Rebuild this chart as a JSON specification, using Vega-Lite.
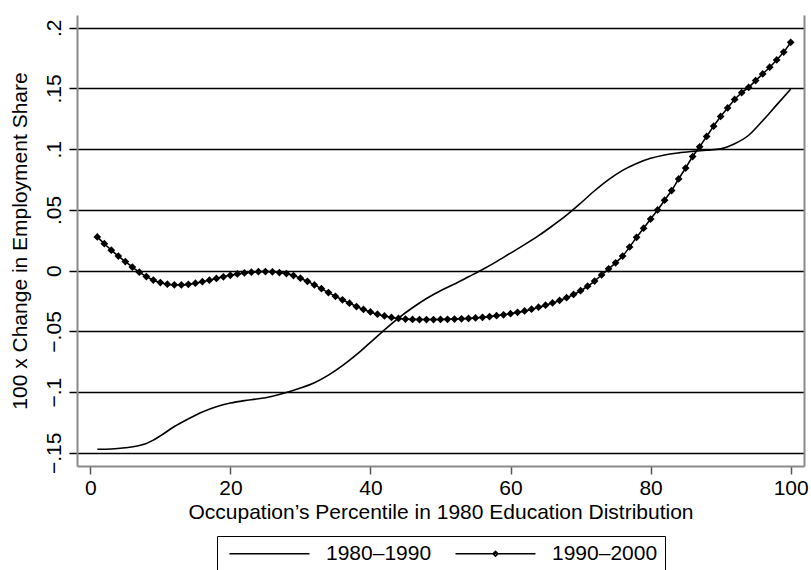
{
"$schema": "https://vega.github.io/schema/vega-lite/v6.json",
"width": 727, "height": 451,
"autosize": "none",
"padding": {"left": 77, "top": 15, "right": 7, "bottom": 104},
"background": "white",
"config": {"view": {"stroke": null}, "font": "Liberation Sans", "legend": {"layout": {"bottom": {"anchor": "middle"}}}},
"data": {"values": [
{"pct":1,"value":-0.1470,"series":"1980–1990"},{"pct":3,"value":-0.1468,"series":"1980–1990"},{"pct":5,"value":-0.1458,"series":"1980–1990"},{"pct":7,"value":-0.1440,"series":"1980–1990"},{"pct":8,"value":-0.1422,"series":"1980–1990"},{"pct":9,"value":-0.1395,"series":"1980–1990"},{"pct":10,"value":-0.1360,"series":"1980–1990"},{"pct":12,"value":-0.1283,"series":"1980–1990"},{"pct":14,"value":-0.1220,"series":"1980–1990"},{"pct":16,"value":-0.1163,"series":"1980–1990"},{"pct":18,"value":-0.1120,"series":"1980–1990"},{"pct":20,"value":-0.1090,"series":"1980–1990"},{"pct":22,"value":-0.1070,"series":"1980–1990"},{"pct":24,"value":-0.1055,"series":"1980–1990"},{"pct":26,"value":-0.1033,"series":"1980–1990"},{"pct":28,"value":-0.1003,"series":"1980–1990"},{"pct":30,"value":-0.0966,"series":"1980–1990"},{"pct":32,"value":-0.0922,"series":"1980–1990"},{"pct":34,"value":-0.0860,"series":"1980–1990"},{"pct":36,"value":-0.0782,"series":"1980–1990"},{"pct":38,"value":-0.0692,"series":"1980–1990"},{"pct":40,"value":-0.0590,"series":"1980–1990"},{"pct":42,"value":-0.0487,"series":"1980–1990"},{"pct":44,"value":-0.0390,"series":"1980–1990"},{"pct":46,"value":-0.0305,"series":"1980–1990"},{"pct":48,"value":-0.0229,"series":"1980–1990"},{"pct":50,"value":-0.0165,"series":"1980–1990"},{"pct":52,"value":-0.0110,"series":"1980–1990"},{"pct":54,"value":-0.0050,"series":"1980–1990"},{"pct":56,"value":0.0010,"series":"1980–1990"},{"pct":58,"value":0.0075,"series":"1980–1990"},{"pct":60,"value":0.0145,"series":"1980–1990"},{"pct":62,"value":0.0214,"series":"1980–1990"},{"pct":64,"value":0.0288,"series":"1980–1990"},{"pct":66,"value":0.0370,"series":"1980–1990"},{"pct":68,"value":0.0457,"series":"1980–1990"},{"pct":70,"value":0.0555,"series":"1980–1990"},{"pct":72,"value":0.0658,"series":"1980–1990"},{"pct":74,"value":0.0750,"series":"1980–1990"},{"pct":76,"value":0.0826,"series":"1980–1990"},{"pct":78,"value":0.0883,"series":"1980–1990"},{"pct":80,"value":0.0925,"series":"1980–1990"},{"pct":82,"value":0.0953,"series":"1980–1990"},{"pct":84,"value":0.0970,"series":"1980–1990"},{"pct":86,"value":0.0982,"series":"1980–1990"},{"pct":88,"value":0.0992,"series":"1980–1990"},{"pct":90,"value":0.1003,"series":"1980–1990"},{"pct":92,"value":0.1045,"series":"1980–1990"},{"pct":94,"value":0.1115,"series":"1980–1990"},{"pct":96,"value":0.1235,"series":"1980–1990"},{"pct":98,"value":0.1365,"series":"1980–1990"},{"pct":100,"value":0.1495,"series":"1980–1990"},
{"pct":1,"value":0.0278,"series":"1990–2000"},{"pct":2,"value":0.0222,"series":"1990–2000"},{"pct":3,"value":0.0169,"series":"1990–2000"},{"pct":4,"value":0.0120,"series":"1990–2000"},{"pct":5,"value":0.0075,"series":"1990–2000"},{"pct":6,"value":0.0030,"series":"1990–2000"},{"pct":7,"value":-0.0012,"series":"1990–2000"},{"pct":8,"value":-0.0048,"series":"1990–2000"},{"pct":9,"value":-0.0077,"series":"1990–2000"},{"pct":10,"value":-0.0098,"series":"1990–2000"},
{"pct":11,"value":-0.0111,"series":"1990–2000"},{"pct":12,"value":-0.0116,"series":"1990–2000"},{"pct":13,"value":-0.0117,"series":"1990–2000"},{"pct":14,"value":-0.0112,"series":"1990–2000"},{"pct":15,"value":-0.0103,"series":"1990–2000"},{"pct":16,"value":-0.0091,"series":"1990–2000"},{"pct":17,"value":-0.0078,"series":"1990–2000"},{"pct":18,"value":-0.0064,"series":"1990–2000"},{"pct":19,"value":-0.0050,"series":"1990–2000"},{"pct":20,"value":-0.0038,"series":"1990–2000"},
{"pct":21,"value":-0.0027,"series":"1990–2000"},{"pct":22,"value":-0.0019,"series":"1990–2000"},{"pct":23,"value":-0.0012,"series":"1990–2000"},{"pct":24,"value":-0.0008,"series":"1990–2000"},{"pct":25,"value":-0.0007,"series":"1990–2000"},{"pct":26,"value":-0.0009,"series":"1990–2000"},{"pct":27,"value":-0.0015,"series":"1990–2000"},{"pct":28,"value":-0.0024,"series":"1990–2000"},{"pct":29,"value":-0.0040,"series":"1990–2000"},{"pct":30,"value":-0.0062,"series":"1990–2000"},
{"pct":31,"value":-0.0088,"series":"1990–2000"},{"pct":32,"value":-0.0117,"series":"1990–2000"},{"pct":33,"value":-0.0148,"series":"1990–2000"},{"pct":34,"value":-0.0180,"series":"1990–2000"},{"pct":35,"value":-0.0211,"series":"1990–2000"},{"pct":36,"value":-0.0240,"series":"1990–2000"},{"pct":37,"value":-0.0268,"series":"1990–2000"},{"pct":38,"value":-0.0295,"series":"1990–2000"},{"pct":39,"value":-0.0319,"series":"1990–2000"},{"pct":40,"value":-0.0340,"series":"1990–2000"},
{"pct":41,"value":-0.0358,"series":"1990–2000"},{"pct":42,"value":-0.0373,"series":"1990–2000"},{"pct":43,"value":-0.0385,"series":"1990–2000"},{"pct":44,"value":-0.0393,"series":"1990–2000"},{"pct":45,"value":-0.0398,"series":"1990–2000"},{"pct":46,"value":-0.0401,"series":"1990–2000"},{"pct":47,"value":-0.0402,"series":"1990–2000"},{"pct":48,"value":-0.0402,"series":"1990–2000"},{"pct":49,"value":-0.0402,"series":"1990–2000"},{"pct":50,"value":-0.0401,"series":"1990–2000"},
{"pct":51,"value":-0.0400,"series":"1990–2000"},{"pct":52,"value":-0.0398,"series":"1990–2000"},{"pct":53,"value":-0.0396,"series":"1990–2000"},{"pct":54,"value":-0.0393,"series":"1990–2000"},{"pct":55,"value":-0.0389,"series":"1990–2000"},{"pct":56,"value":-0.0384,"series":"1990–2000"},{"pct":57,"value":-0.0378,"series":"1990–2000"},{"pct":58,"value":-0.0371,"series":"1990–2000"},{"pct":59,"value":-0.0363,"series":"1990–2000"},{"pct":60,"value":-0.0354,"series":"1990–2000"},
{"pct":61,"value":-0.0343,"series":"1990–2000"},{"pct":62,"value":-0.0331,"series":"1990–2000"},{"pct":63,"value":-0.0317,"series":"1990–2000"},{"pct":64,"value":-0.0301,"series":"1990–2000"},{"pct":65,"value":-0.0284,"series":"1990–2000"},{"pct":66,"value":-0.0266,"series":"1990–2000"},{"pct":67,"value":-0.0245,"series":"1990–2000"},{"pct":68,"value":-0.0222,"series":"1990–2000"},{"pct":69,"value":-0.0196,"series":"1990–2000"},{"pct":70,"value":-0.0165,"series":"1990–2000"},
{"pct":71,"value":-0.0128,"series":"1990–2000"},{"pct":72,"value":-0.0085,"series":"1990–2000"},{"pct":73,"value":-0.0035,"series":"1990–2000"},{"pct":74,"value":0.0015,"series":"1990–2000"},{"pct":75,"value":0.0065,"series":"1990–2000"},{"pct":76,"value":0.0120,"series":"1990–2000"},{"pct":77,"value":0.0195,"series":"1990–2000"},{"pct":78,"value":0.0275,"series":"1990–2000"},{"pct":79,"value":0.0350,"series":"1990–2000"},{"pct":80,"value":0.0425,"series":"1990–2000"},
{"pct":81,"value":0.0500,"series":"1990–2000"},{"pct":82,"value":0.0580,"series":"1990–2000"},{"pct":83,"value":0.0660,"series":"1990–2000"},{"pct":84,"value":0.0755,"series":"1990–2000"},{"pct":85,"value":0.0845,"series":"1990–2000"},{"pct":86,"value":0.0940,"series":"1990–2000"},{"pct":87,"value":0.1020,"series":"1990–2000"},{"pct":88,"value":0.1105,"series":"1990–2000"},{"pct":89,"value":0.1190,"series":"1990–2000"},{"pct":90,"value":0.1270,"series":"1990–2000"},
{"pct":91,"value":0.1340,"series":"1990–2000"},{"pct":92,"value":0.1410,"series":"1990–2000"},{"pct":93,"value":0.1465,"series":"1990–2000"},{"pct":94,"value":0.1510,"series":"1990–2000"},{"pct":95,"value":0.1565,"series":"1990–2000"},{"pct":96,"value":0.1620,"series":"1990–2000"},{"pct":97,"value":0.1675,"series":"1990–2000"},{"pct":98,"value":0.1735,"series":"1990–2000"},{"pct":99,"value":0.1800,"series":"1990–2000"},{"pct":100,"value":0.1880,"series":"1990–2000"}
]},
"layer": [
{
"mark": {"type": "line", "color": "black", "strokeWidth": 1.6, "interpolate": "monotone"},
"encoding": {
"x": {"field": "pct", "type": "quantitative", "scale": {"domain": [-1.9, 101.9], "nice": false, "zero": false},
"axis": {"title": "Occupation’s Percentile in 1980 Education Distribution", "values": [0,20,40,60,80,100], "grid": false, "tickSize": 8, "tickColor": "#555555", "tickWidth": 1.5, "domainColor": "#8a8a8a", "domainWidth": 2, "labelFontSize": 21, "labelPadding": 3, "labelColor": "black", "labelFlush": false, "titleFontSize": 21, "titlePadding": 3, "titleColor": "black", "titleFontWeight": "normal"}},
"y": {"field": "value", "type": "quantitative", "scale": {"domain": [-0.1608, 0.2105], "nice": false, "zero": false},
"axis": {"title": "100 x Change in Employment Share", "values": [-0.15,-0.1,-0.05,0,0.05,0.1,0.15,0.2], "grid": true, "gridColor": "black", "gridWidth": 1.5, "tickColor": "black", "tickWidth": 1.5, "tickSize": 8, "domainColor": "#8a8a8a", "domainWidth": 2, "labelAngle": 270, "labelAlign": "center", "labelBaseline": "alphabetic", "labelPadding": 9, "labelFontSize": 21, "labelColor": "black", "labelExpr": "datum.value == 0 ? '0' : replace(format(datum.value, '.2~f'), '0.', '.')", "titleFontSize": 21, "titleFontWeight": "normal", "titleColor": "black", "titlePadding": 13}},
"detail": {"field": "series", "type": "nominal"}
}
},
{
"transform": [{"filter": "datum.series === '1990–2000'"}],
"mark": {"type": "point", "shape": "diamond", "filled": true, "color": "black", "size": 60, "opacity": 1},
"encoding": {
"x": {"field": "pct", "type": "quantitative", "scale": {"domain": [-1.9, 101.9], "nice": false, "zero": false}},
"y": {"field": "value", "type": "quantitative", "scale": {"domain": [-0.1608, 0.2105], "nice": false, "zero": false},
"axis": {"orient": "right", "labels": false, "ticks": false, "grid": false, "title": null, "domainColor": "#8a8a8a", "domainWidth": 2}}
}
},
{
"transform": [{"filter": "false"}],
"mark": {"type": "point", "filled": false, "stroke": "black", "strokeWidth": 1.5, "opacity": 1},
"encoding": {
"x": {"field": "pct", "type": "quantitative", "scale": {"domain": [-1.9, 101.9], "nice": false, "zero": false}},
"y": {"field": "value", "type": "quantitative", "scale": {"domain": [-0.1608, 0.2105], "nice": false, "zero": false}, "axis": null},
"shape": {"field": "series", "type": "nominal",
"scale": {"domain": ["1980–1990", "1990–2000"], "range": ["M-8,0H8", "M-8,0H8M-0.5,0L0,-0.5L0.5,0L0,0.5Z"]},
"legend": {"orient": "bottom", "direction": "horizontal", "title": null, "strokeColor": "black", "padding": 7, "offset": 14, "symbolSize": 100, "symbolOffset": 35, "symbolStrokeWidth": 1.5, "symbolStrokeColor": "black", "symbolOpacity": 1, "labelFontSize": 21, "labelColor": "black", "labelOffset": 46, "columnPadding": 18}}
}
}
],
"resolve": {"axis": {"y": "independent"}}
}
